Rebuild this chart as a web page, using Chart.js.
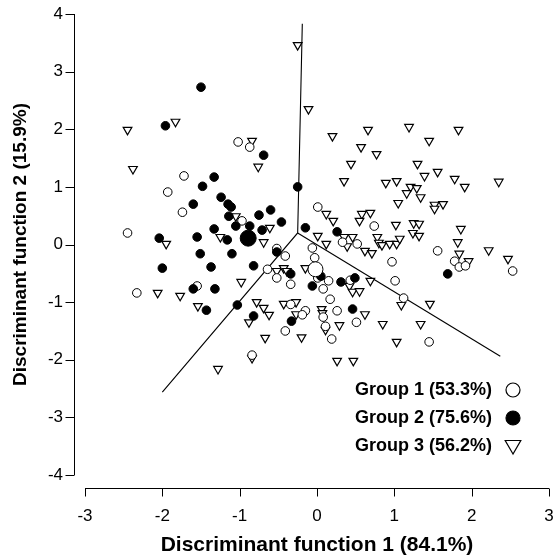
<!DOCTYPE html>
<html><head><meta charset="utf-8">
<script src="https://cdn.jsdelivr.net/npm/chart.js@4/dist/chart.umd.min.js"></script>
<style>html,body{margin:0;padding:0;background:#fff}#wrap{width:558px;height:559px}</style>
</head><body><div id="wrap"><canvas id="c" width="558" height="559"></canvas></div>
<script>
const xTickValues = [-3, -2, -1, 0, 1, 2, 3];
const yTickValues = [-4, -3, -2, -1, 0, 1, 2, 3, 4];
const xTitle = 'Discriminant function 1 (84.1%)';
const yTitle = 'Discriminant function 2 (15.9%)';
const legendLabels = ['Group 1 (53.3%)', 'Group 2 (75.6%)', 'Group 3 (56.2%)'];

const group1Points = [
  [-1.02,1.78],[-0.87,1.69],[-1.72,1.19],[-1.93,0.91],[-1.74,0.56],[-0.97,0.41],[-2.45,0.20],
  [-0.52,-0.07],[-0.41,-0.20],[-0.64,-0.43],[-0.52,-0.58],[-0.34,-0.69],[-1.55,-0.72],[-2.33,-0.84],
  [-0.34,-1.04],[-0.41,-1.50],[-0.84,-1.92],[0.01,0.65],[0.74,0.32],[0.33,0.04],[0.52,0.01],
  [-0.06,-0.06],[-0.03,-0.23],[1.56,-0.11],[1.78,-0.29],[1.84,-0.39],[1.92,-0.37],[0.97,-0.30],
  [2.53,-0.46],[0.01,-0.58],[0.15,-0.63],[0.43,-0.62],[1.01,-0.63],[0.08,-0.77],[0.17,-0.95],
  [1.12,-0.93],[-0.15,-1.15],[-0.19,-1.22],[0.08,-1.26],[0.26,-1.15],[0.51,-1.35],[0.11,-1.42],
  [0.19,-1.64],[1.45,-1.69]
];
const group2Points = [
  [-1.50,2.73],[-1.96,2.06],[-0.69,1.55],[-1.33,1.17],[-1.48,1.01],[-1.24,0.82],[-0.25,1.00],
  [-1.60,0.70],[-1.15,0.70],[-1.11,0.65],[-1.14,0.49],[-0.75,0.51],[-0.60,0.60],[-0.46,0.39],
  [-1.05,0.32],[-0.87,0.32],[-1.33,0.27],[-0.71,0.25],[-2.04,0.11],[-1.55,0.13],[-1.16,0.08],
  [-0.52,-0.13],[-1.51,-0.16],[-1.10,-0.16],[-2.00,-0.41],[-1.37,-0.39],[-0.82,-0.37],[-0.34,-0.51],
  [-1.60,-0.77],[-1.32,-0.77],[-1.43,-1.14],[-1.03,-1.05],[-0.82,-1.24],[-0.33,-1.33],[-0.15,0.29],
  [0.26,0.22],[0.05,-0.55],[-0.06,-0.72],[0.31,-0.65],[0.49,-0.58],[0.46,-1.12],[1.69,-0.51]
];
const group3Points = [
  [-0.25,3.46],[-0.11,2.35],[-1.83,2.13],[-2.45,1.99],[-0.84,1.80],[-2.38,1.31],[-0.76,1.35],
  [0.66,1.99],[1.19,2.04],[1.83,1.99],[0.20,1.88],[1.45,1.80],[0.57,1.69],[0.77,1.57],[0.44,1.40],
  [1.30,1.40],[1.56,1.26],[1.39,1.19],[1.78,1.14],[0.35,1.10],[0.89,1.07],[1.03,1.10],[2.35,1.09],
  [1.91,1.00],[1.21,1.00],[1.29,0.98],[1.16,0.89],[1.34,0.82],[1.05,0.72],[1.52,0.69],[1.63,0.70],
  [1.52,0.62],[0.12,0.53],[0.21,0.41],[0.58,0.53],[0.69,0.55],[0.55,0.41],[1.02,0.34],[1.25,0.37],
  [1.32,0.36],[1.24,0.20],[1.32,0.15],[1.86,0.27],[0.01,0.15],[0.35,0.13],[0.46,0.13],[0.39,-0.03],
  [0.12,0.01],[0.78,0.13],[0.80,0.03],[0.84,-0.01],[0.94,0.01],[1.03,0.01],[1.07,0.10],[1.82,0.04],
  [0.62,-0.11],[0.71,-0.15],[2.22,-0.10],[1.84,-0.16],[1.96,-0.29],[2.47,-0.25],[-0.15,-0.41],
  [0.42,-0.72],[0.46,-0.82],[0.55,-0.81],[0.69,-0.63],[1.46,-1.03],[1.09,-1.05],[0.06,-1.12],
  [0.07,-1.19],[0.62,-1.21],[0.29,-1.40],[0.11,-1.48],[0.85,-1.38],[1.34,-1.38],[-0.20,-1.61],
  [1.03,-1.69],[0.26,-2.02],[0.47,-2.02],[-2.06,-0.84],[-1.77,-0.89],[-1.54,-1.07],[-0.78,-1.00],
  [-0.69,-1.10],[-0.62,-1.22],[-0.88,-1.35],[-0.67,-1.62],[-0.84,-1.97],[-1.28,-2.16],[-0.43,-1.03],
  [-0.27,-1.00],[-0.27,-1.21],[-1.95,0.01],[-1.05,0.49],[-0.61,0.29],[-1.25,0.13],[-0.69,0.04],
  [-0.52,-0.46],[-0.43,-0.41],[-0.39,-0.46],[-0.98,-0.65]
];
const centroid1 = [[-0.02,-0.43]];
const centroid2 = [[-0.89,0.11]];
const boundaryA = [[-0.19,3.83],[-0.25,0.20],[-2.00,-2.56]];
const boundaryB = [[-0.25,0.20],[2.37,-1.94]];

const toXY = arr => arr.map(p => ({x: p[0], y: p[1]}));
const FONT = "'Liberation Sans', Arial, Helvetica, sans-serif";

const openCircle = {pointStyle:'circle', backgroundColor:'#fff', borderColor:'#000', borderWidth:1};
const filledCircle = {pointStyle:'circle', backgroundColor:'#000', borderColor:'#000', borderWidth:1};
const triStyle = {pointStyle:'triangle', rotation:180, backgroundColor:'#fff', borderColor:'#000', borderWidth:1.2};

const axesPlugin = {
  id: 'rAxes',
  afterDraw(chart) {
    const ctx = chart.ctx, xs = chart.scales.x, ys = chart.scales.y;
    const ca = chart.chartArea;
    ctx.save();
    ctx.strokeStyle = '#000'; ctx.lineWidth = 1;
    const ax = ca.left - 10.5;
    ctx.beginPath();
    ctx.moveTo(ax, ys.getPixelForValue(yTickValues[0]));
    ctx.lineTo(ax, ys.getPixelForValue(yTickValues[yTickValues.length-1]));
    yTickValues.forEach(v => { const p = Math.round(ys.getPixelForValue(v)) + 0.5; ctx.moveTo(ax, p); ctx.lineTo(ax - 9, p); });
    ctx.stroke();
    const ay = ca.bottom + 13.5;
    ctx.beginPath();
    ctx.moveTo(xs.getPixelForValue(xTickValues[0]), ay);
    ctx.lineTo(xs.getPixelForValue(xTickValues[xTickValues.length-1]), ay);
    xTickValues.forEach(v => { const p = Math.round(xs.getPixelForValue(v)) + 0.5; ctx.moveTo(p, ay); ctx.lineTo(p, ay + 8); });
    ctx.stroke();
    // legend
    const styles = [openCircle, filledCircle, triStyle];
    ctx.font = "bold 18px " + FONT;
    ctx.fillStyle = '#000';
    ctx.textAlign = 'right'; ctx.textBaseline = 'middle';
    const rows = [390, 418, 446];
    legendLabels.forEach((t, i) => {
      ctx.fillText(t, 492, rows[i]);
      const s = styles[i];
      ctx.fillStyle = s.backgroundColor; ctx.strokeStyle = s.borderColor; ctx.lineWidth = 1.2;
      Chart.helpers.drawPoint(ctx, {pointStyle: s.pointStyle, radius: s.pointStyle === 'triangle' ? 9 : 7, rotation: s.rotation || 0, borderWidth: 1.2}, 513, rows[i] + (s.pointStyle==='triangle' ? -1 : 0));
      ctx.fillStyle = '#000';
    });
    ctx.restore();
  }
};

new Chart(document.getElementById('c'), {
  type: 'scatter',
  data: {
    datasets: [
      Object.assign({label:'Group 1 centroid', data: toXY(centroid1), pointRadius: 7.5}, openCircle),
      Object.assign({label:'Group 2 centroid', data: toXY(centroid2), pointRadius: 8}, filledCircle),
      Object.assign({label:'Group 2', data: toXY(group2Points), pointRadius: 4.3}, filledCircle),
      Object.assign({label:'Group 1', data: toXY(group1Points), pointRadius: 4.3}, openCircle),
      Object.assign({label:'Group 3', data: toXY(group3Points), pointRadius: 5}, triStyle),
      {label:'bA', data: toXY(boundaryA), showLine: true, pointRadius: 0, borderColor:'#000', borderWidth: 1.1, fill:false, tension:0},
      {label:'bB', data: toXY(boundaryB), showLine: true, pointRadius: 0, borderColor:'#000', borderWidth: 1.1, fill:false, tension:0}
    ]
  },
  options: {
    responsive: false, animation: false, devicePixelRatio: 1,
    clip: false,
    layout: {padding: {top: 14, right: 6, left: 0, bottom: 0}},
    plugins: {legend: {display: false}, tooltip: {enabled: false}},
    elements: {point: {hoverRadius: 0}},
    scales: {
      x: {
        type: 'linear', min: -3, max: 3,
        afterFit(s) { s.height = 84; s.paddingLeft = 0; s.paddingRight = 0; },
        afterBuildTicks(s) { s.ticks = xTickValues.map(v => ({value: v})); },
        grid: {display: false, drawTicks: false},
        border: {display: false},
        ticks: {color:'#000', font: {family: FONT, size: 17}, padding: 31, maxRotation: 0},
        title: {display: true, text: xTitle, color:'#000', font: {family: FONT, size: 21, weight: 'bold'}, padding: {top: 0, bottom: 1}}
      },
      y: {
        type: 'linear', min: -4, max: 4,
        afterFit(s) { s.width = 85; s.paddingTop = 0; s.paddingBottom = 0; },
        afterBuildTicks(s) { s.ticks = yTickValues.map(v => ({value: v})); },
        grid: {display: false, drawTicks: false},
        border: {display: false},
        ticks: {color:'#000', font: {family: FONT, size: 17}, padding: 22},
        title: {display: true, text: yTitle, color:'#000', font: {family: FONT, size: 19, weight: 'bold'}, padding: {top: 9, bottom: 0}}
      }
    }
  },
  plugins: [axesPlugin]
});
</script></body></html>
